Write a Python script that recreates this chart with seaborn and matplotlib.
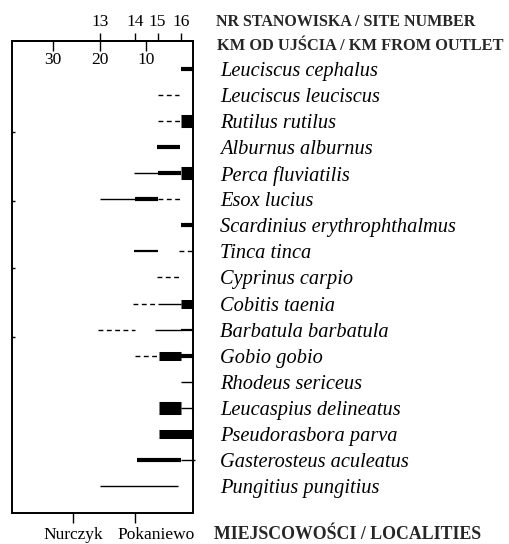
import matplotlib.pyplot as plt
import matplotlib.transforms as mtransforms
import pandas as pd
import seaborn as sns

sns.set_theme(style="white")
plt.rcParams["font.family"] = ["Liberation Serif", "DejaVu Serif"]

species = [
    "Leuciscus cephalus", "Leuciscus leuciscus", "Rutilus rutilus",
    "Alburnus alburnus", "Perca fluviatilis", "Esox lucius",
    "Scardinius erythrophthalmus", "Tinca tinca", "Cyprinus carpio",
    "Cobitis taenia", "Barbatula barbatula", "Gobio gobio",
    "Rhodeus sericeus", "Leucaspius delineatus", "Pseudorasbora parva",
    "Gasterosteus aculeatus", "Pungitius pungitius",
]

site_numbers = [13, 14, 15, 16]
site_km = [20.0, 12.4, 7.6, 2.6]
km_ticks = [30, 20, 10]
localities = ["Nurczyk", "Pokaniewo"]
locality_km = [25.7, 12.4]

# one entry per drawn segment: species row, from km, to km, abundance class
seg_row = [0, 1, 2, 2, 3, 4, 4, 4, 5, 5, 5, 6, 7, 7, 8, 9, 9, 9,
           10, 10, 10, 11, 11, 11, 12, 13, 13, 14, 15, 15, 16]
seg_from = [2.6, 7.6, 7.6, 2.6, 7.8, 12.6, 7.6, 2.6, 19.9, 12.4, 7.6, 2.6,
            12.6, 3.1, 7.8, 12.8, 7.6, 2.6, 20.3, 8.1, 2.6, 12.4, 7.4, 2.6,
            2.6, 7.4, 2.6, 7.2, 12.1, 2.6, 20.0]
seg_to = [0.0, 3.1, 2.6, 0.0, 2.9, 7.6, 2.6, 0.0, 12.4, 7.6, 2.9, 0.0,
          7.6, 0.0, 2.9, 7.6, 2.6, 0.0, 12.4, 2.6, 0.0, 7.6, 2.6, 0.0,
          0.0, 2.6, 0.0, 0.0, 2.6, -0.5, 3.3]
seg_class = ["bar", "dash", "dash", "bigbox", "bar", "line", "bar", "bigbox",
             "line", "bar", "dash", "bar", "line2", "dash", "dash", "dash",
             "line", "box", "dash", "line", "line2", "dash", "box", "bar",
             "line", "bigbox", "line", "box", "bar", "line", "line"]

STYLES = {
    "dash": dict(linewidths=1.0, linestyles=(0, (3.5, 2.5))),
    "line": dict(linewidths=1.0, linestyles="solid"),
    "line2": dict(linewidths=1.6, linestyles="solid"),
    "bar": dict(linewidths=3.0, linestyles="solid"),
    "box": dict(linewidths=6.5, linestyles="solid"),
    "bigbox": dict(linewidths=9.4, linestyles="solid"),
}

segments = pd.DataFrame({"row": seg_row, "start": seg_from,
                         "end": seg_to, "cls": seg_class})

fig = plt.figure(figsize=(5.1, 5.44), dpi=100)
ax = fig.add_axes([0.0235, 0.057, 0.355, 0.868])

for _, s in segments.iterrows():
    ax.hlines(s["row"], s["start"], s["end"], colors="black",
              capstyle="butt", clip_on=False, **STYLES[s["cls"]])

ax.set_xlim(38.8, 0)
ax.set_ylim(17.04, -1.086)

for sp in ax.spines.values():
    sp.set_color("black")
    sp.set_linewidth(1.4)

# species names on the right
ax.yaxis.set_ticks_position("right")
ax.set_yticks(range(len(species)), labels=species, fontstyle="italic",
              fontsize=14.7)
ax.tick_params(axis="y", which="major", length=0, pad=19.5, colors="black")
ax.set_yticks([2.4, 5.05, 7.65, 10.3], minor=True)
ax.tick_params(axis="y", which="minor", left=True, right=False,
               direction="in", length=2, width=1, color="black")

# localities below
ax.set_xticks(locality_km, labels=localities, fontsize=12.5)
ax.tick_params(axis="x", bottom=True, top=False, direction="out", length=7,
               width=1, pad=3, colors="black")
shift = mtransforms.ScaledTranslation(0.21, 0, fig.dpi_scale_trans)
pok = ax.get_xticklabels()[1]
pok.set_transform(pok.get_transform() + shift)

# km from outlet, ticks inside
km_ax = ax.secondary_xaxis("top")
km_ax.set_xticks(km_ticks)
km_ax.tick_params(direction="in", length=7, width=1, pad=-19.5,
                  labelsize=12.5, colors="black")

# site numbers above
site_ax = ax.secondary_xaxis("top")
site_ax.set_xticks(site_km, labels=[str(n) for n in site_numbers])
site_ax.tick_params(direction="out", length=6, width=1, pad=1.5,
                    labelsize=12.5, colors="black")
for sec in (km_ax, site_ax):
    for sp in sec.spines.values():
        sp.set_color("black")
        sp.set_linewidth(1.4)

fig.text(0.4235, 0.960, "NR STANOWISKA / SITE NUMBER", fontsize=11.5,
         fontweight="bold", va="center")
fig.text(0.425, 0.915, "KM OD UJŚCIA / KM FROM OUTLET", fontsize=11.8,
         fontweight="bold", va="center")
fig.text(0.42, 0.017, "MIEJSCOWOŚCI / LOCALITIES", fontsize=12.8,
         fontweight="bold", va="center")

fig.savefig("out.png", dpi=100)
